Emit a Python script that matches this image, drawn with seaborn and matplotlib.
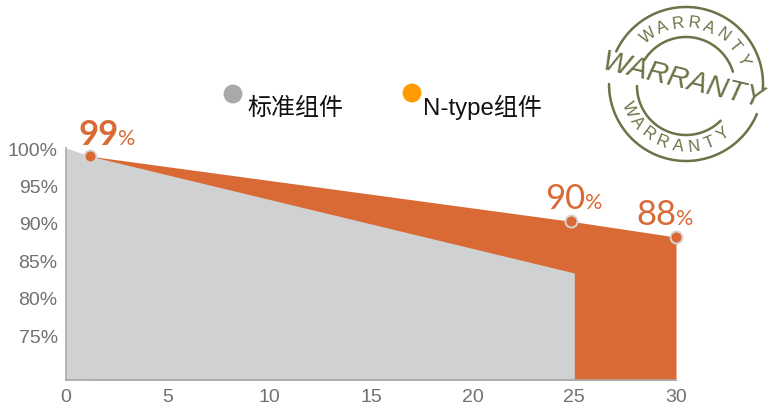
import numpy as np
import matplotlib.pyplot as plt
import seaborn as sns

years_std = [0, 1.2, 25]
values_std = [100, 98.9, 83.3]
years_ntype = [1.2, 24.85, 30]
values_ntype = [98.9, 90.2, 88.1]
point_labels = ['99', '90', '88']
y_ticks = [75, 80, 85, 90, 95, 100]
x_ticks = [0, 5, 10, 15, 20, 25, 30]
legend_labels = ['标准组件', 'N-type组件']

ORANGE = '#d96a36'
GREY = '#d0d1d3'
OLIVE = '#6b7347'
TICK = '#707070'

sns.set_style('white')
plt.rcParams['font.family'] = ['Liberation Sans', 'Noto Sans CJK SC']

fig = plt.figure(figsize=(7.68, 4.06), dpi=100)
ax = fig.add_axes([66 / 768, 1 - 381 / 406, 610 / 768, 232 / 406])
base = 69

ax.fill_between(years_ntype, values_ntype, base, color=ORANGE, lw=0, zorder=1)
ax.fill_between(years_std, values_std, base, color=GREY, lw=0, zorder=2)

sns.scatterplot(x=years_ntype, y=values_ntype, s=75, color=ORANGE, edgecolor='#d8d4d0',
                linewidth=1.4, ax=ax, zorder=4, clip_on=False)

ax.set_xlim(0, 30)
ax.set_ylim(base, 100)
ax.set_xticks(x_ticks)
ax.set_yticks(y_ticks)
ax.set_xticklabels([str(v) for v in x_ticks], fontsize=14, color=TICK)
ax.set_yticklabels([f'{v}%' for v in y_ticks], fontsize=14, color=TICK)
ax.tick_params(length=0)
ax.tick_params(axis='x', pad=6)
ax.tick_params(axis='y', pad=6)
sns.despine(ax=ax)
for side in ['left', 'bottom']:
    ax.spines[side].set_color('#a8a8a8')
    ax.spines[side].set_linewidth(1.2)

# overlay in pixel coordinates for legend and stamp
ov = fig.add_axes([0, 0, 1, 1], facecolor='none')
ov.set_xlim(0, 768)
ov.set_ylim(406, 0)
ov.axis('off')

label_pos = [(79, 145, 118, 145), (545, 209, 585, 209), (636, 225, 676, 225)]
for txt, (x1, y1, x2, y2) in zip(point_labels, label_pos):
    ov.text(x1, y1, txt, family='Lato', fontsize=25, color=ORANGE, va='baseline',
            weight='bold' if txt == '99' else 'normal')
    ov.text(x2, y2, '%', family='Lato', fontsize=15.5, color=ORANGE, va='baseline')

ov.scatter([233, 412], [95, 94], s=185, color=['#a9a9a9', '#ff9a00'], lw=0)
ov.text(247, 115, legend_labels[0], fontsize=17.3, color='#111111', va='baseline')
ov.text(423, 115, legend_labels[1], fontsize=17.3, color='#111111', va='baseline')


def arc(cx, cy, r, a0, a1, lw):
    t = np.radians(np.linspace(a0, a1, 80))
    ov.plot(cx + r * np.cos(t), cy - r * np.sin(t), color=OLIVE, lw=lw, solid_capstyle='round')


def text_on_arc(word, cx, cy, r, a0, a1, size, flip=False):
    for ch, a in zip(word, np.linspace(a0, a1, len(word))):
        t = np.radians(a)
        rot = a + 90 if flip else a - 90
        ov.text(cx + r * np.cos(t), cy - r * np.sin(t), ch, fontsize=size, color=OLIVE,
                ha='center', va='center', rotation=rot, rotation_mode='anchor')


# stamp rings, gaps left where the big word crosses
cx, cy = 686, 85
arc(cx, cy, 77, -4, 155, 1.8)
arc(cx, cy, 77, 180, 337, 1.8)
arc(cx, cy + 2, 49, 17, 148, 1.8)
arc(cx, cy + 2, 49, 180, 315, 1.8)
text_on_arc('WARRANTY', cx, cy, 62, 127, 24, 12)
text_on_arc('WARRANTY', cx, cy, 62, 203, 307, 12, flip=True)

ov.text(683, 81, 'WARRANTY', fontsize=21, color=OLIVE, style='italic', ha='center', va='center',
        rotation=-13.5, rotation_mode='anchor')

plt.savefig('out.png', dpi=100)
